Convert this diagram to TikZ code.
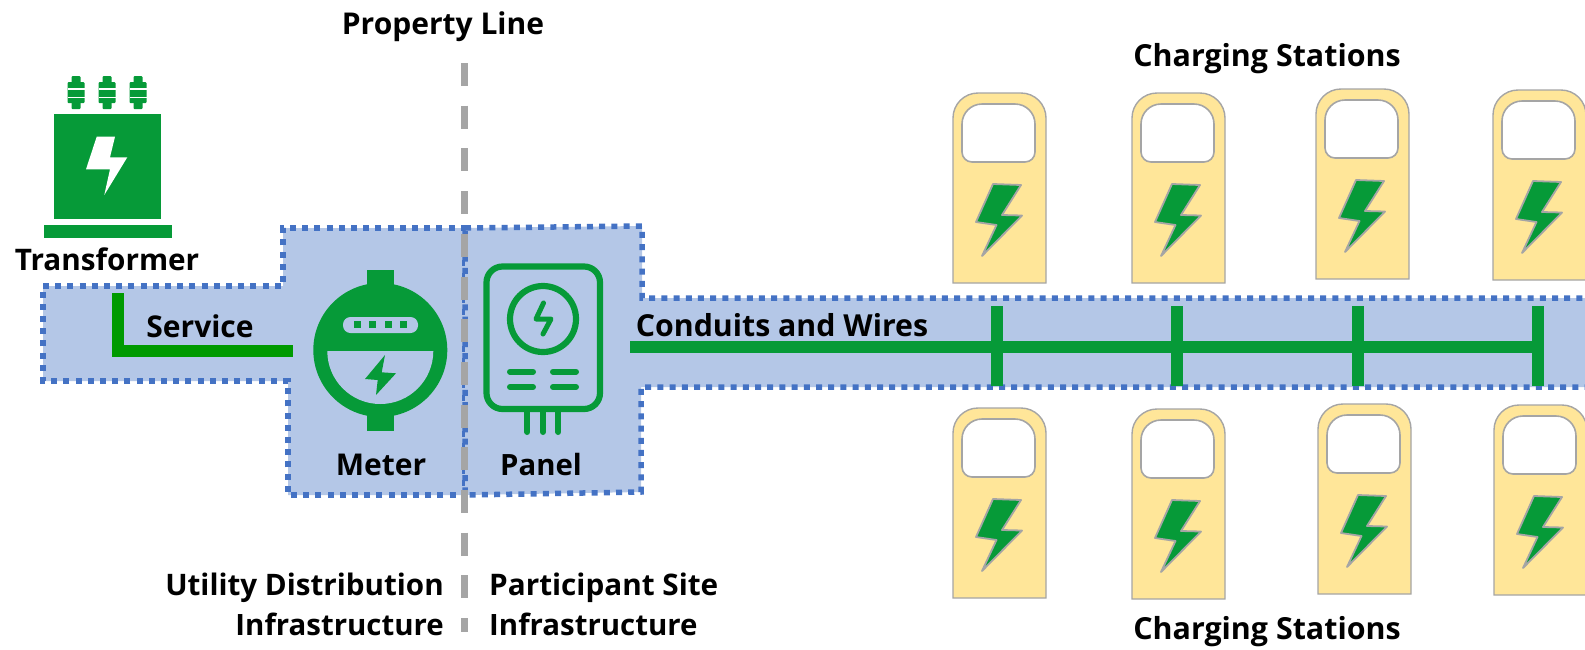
\documentclass[tikz,border=0pt]{standalone}
\usepackage{fontspec}
\setmainfont{Open Sans}[BoldFont={Open Sans Bold}]
\definecolor{gr}{HTML}{069A38}
\definecolor{srv}{HTML}{009A00}
\definecolor{bl}{HTML}{B4C7E7}
\definecolor{dt}{HTML}{4472C4}
\definecolor{yl}{HTML}{FFE699}
\definecolor{gy}{HTML}{A5A5A5}
\tikzset{
 zone/.style={fill=bl,draw=dt,line width=5.5pt,dash pattern=on 6pt off 6.2pt},
 lbl/.style={font=\fontsize{#1}{34}\selectfont\bfseries,inner sep=0pt,text=black,anchor=base},
 lbl/.default=30,
 wirebus/.style={draw=gr,line width=12pt},
 wiresrv/.style={draw=srv,line width=12pt,line join=miter},
 station/.style={fill=yl,draw=gy,line width=1.4pt},
 stwin/.style={fill=white,draw=gy,line width=1.6pt},
 stbolt/.style={fill=gr,draw=gy,line width=1.8pt,line join=round},
 propline/.style={draw=gy,line width=7pt,dash pattern=on 23pt off 19.7pt},
 panelline/.style={draw=gr,line width=6pt,line cap=round},
}
\newcommand{\chargest}[3]{%
 \begin{scope}[shift={(#1,#2)}]
  \path[station,name=#3] (0,190) -- (0,25) arc[start angle=180,end angle=270,radius=25] -- (68,0) arc[start angle=270,end angle=360,radius=25] -- (93,190) -- cycle;
  \path[stwin] (9,31) arc[start angle=180,end angle=270,radius=20] -- (62,11) arc[start angle=270,end angle=360,radius=20] -- (82,59) arc[start angle=0,end angle=90,radius=10] -- (19,69) arc[start angle=90,end angle=180,radius=10] -- cycle;
  \path[stbolt] (40,91) -- (68,92) -- (49,122) -- (69,122.5) -- (29,163) -- (43.5,132) -- (23,129) -- cycle;
 \end{scope}}
\begin{document}
\begin{tikzpicture}[x=1pt,y=-1pt]
\useasboundingbox (0,0) rectangle (1585,649);
\clip (0,0) rectangle (1585,649);
% zones
\path[zone] (43,286) -- (283,286) -- (283,228) -- (465,228) -- (465,495) -- (288,495) -- (288,381) -- (43,381) -- cycle;
\path[zone] (465,228) -- (642,226) -- (642,298) -- (1600,298) -- (1600,387) -- (641,387) -- (641,492) -- (465,495) -- cycle;
% transformer
\foreach \x in {76,107,138}{
 \fill[gr,rounded corners=1pt] (\x-4.5,76) rectangle (\x+4.5,109);
 \fill[gr,rounded corners=1pt] (\x-8.5,82) rectangle (\x+8.5,103);
 \fill[white] (\x-8.5,88.3) rectangle (\x+8.5,89.6);
 \fill[white] (\x-8.5,96.6) rectangle (\x+8.5,98);
}
\fill[gr] (54,114) rectangle (160.5,219);
\fill[gr] (43.5,225) rectangle (171.5,238);
\fill[white] (96.7,136.7) -- (115,136.7) -- (110,157.3) -- (127.3,157.3) -- (104.3,195) -- (110,169.3) -- (86,169.3) -- cycle;
% service
\coordinate (svcTop) at (118,293);
\coordinate (svcCorner) at (118,351);
\coordinate (svcEnd) at (293,351);
\path[wiresrv] (svcTop) -- (svcCorner) -- (svcEnd);
% meter
\fill[gr] (367,270) rectangle (394,431);
\fill[gr] (380.3,350) circle[radius=67];
\fill[bl] (327.3,351) arc[start angle=180,end angle=0,radius=53] -- cycle;
\fill[bl,rounded corners=7.5pt] (343,317) rectangle (418,333);
\foreach \x in {357,372.7,388.3,403.7}{\fill[gr] (\x-3.5,321.2) rectangle (\x+3.5,328.2);}
\fill[gr] (385,355) -- (381.7,372.3) -- (396,373.3) -- (376,395) -- (377.7,380) -- (365,379) -- cycle;
% panel
\path[draw=gr,line width=6.2pt,rounded corners=16pt] (486.5,266.5) rectangle (600,409);
\path[draw=gr,line width=6.2pt] (543,319) circle[radius=33];
\path[panelline,line width=5pt,line join=round] (543.5,303) -- (536,319) -- (551,319) -- (543,334);
\foreach \y in {371.7,387}{
 \path[panelline] (510,\y) -- (533,\y);
 \path[panelline] (553,\y) -- (576,\y);
}
\foreach \x in {527.3,543,558.3}{\path[panelline] (\x,412) -- (\x,432);}
% bus
\coordinate (busStart) at (630,347);
\coordinate (busEnd) at (1538,347);
\path[wirebus] (busStart) -- (busEnd);
\foreach \n/\x in {a/997,b/1177,c/1358,d/1538}{
 \coordinate (t\n1) at (\x,306);
 \coordinate (t\n2) at (\x,386);
 \path[wirebus] (t\n1) -- (t\n2);
}
% property line
\path[propline] (464,63) -- (464,632);
% stations
\chargest{953}{93}{s1}
\chargest{1132}{93}{s2}
\chargest{1316}{89}{s3}
\chargest{1493}{90}{s4}
\chargest{953}{408}{s5}
\chargest{1132}{409}{s6}
\chargest{1318}{404}{s7}
\chargest{1494}{405}{s8}
% labels
\node[lbl] (lProp) at (443,34) {Property Line};
\node[lbl=30.4] (lCh1) at (1267,66) {Charging Stations};
\node[lbl=30.4] (lCh2) at (1267,639) {Charging Stations};
\node[lbl=29.7] (lTr) at (107,270) {Transformer};
\node[lbl] (lSv) at (200,337) {Service};
\node[lbl=30.3] (lCW) at (782,336) {Conduits and Wires};
\node[lbl] (lMe) at (381,475) {Meter};
\node[lbl=29.3] (lPa) at (541,475) {Panel};
\node[lbl=29.6,anchor=base east] (lU1) at (444,595.5) {Utility Distribution};
\node[lbl=29.4,anchor=base east] (lU2) at (444,635) {Infrastructure};
\node[lbl=29.7,anchor=base west] (lP1) at (489,595.5) {Participant Site};
\node[lbl=29.4,anchor=base west] (lP2) at (489,635) {Infrastructure};
\end{tikzpicture}
\end{document}
